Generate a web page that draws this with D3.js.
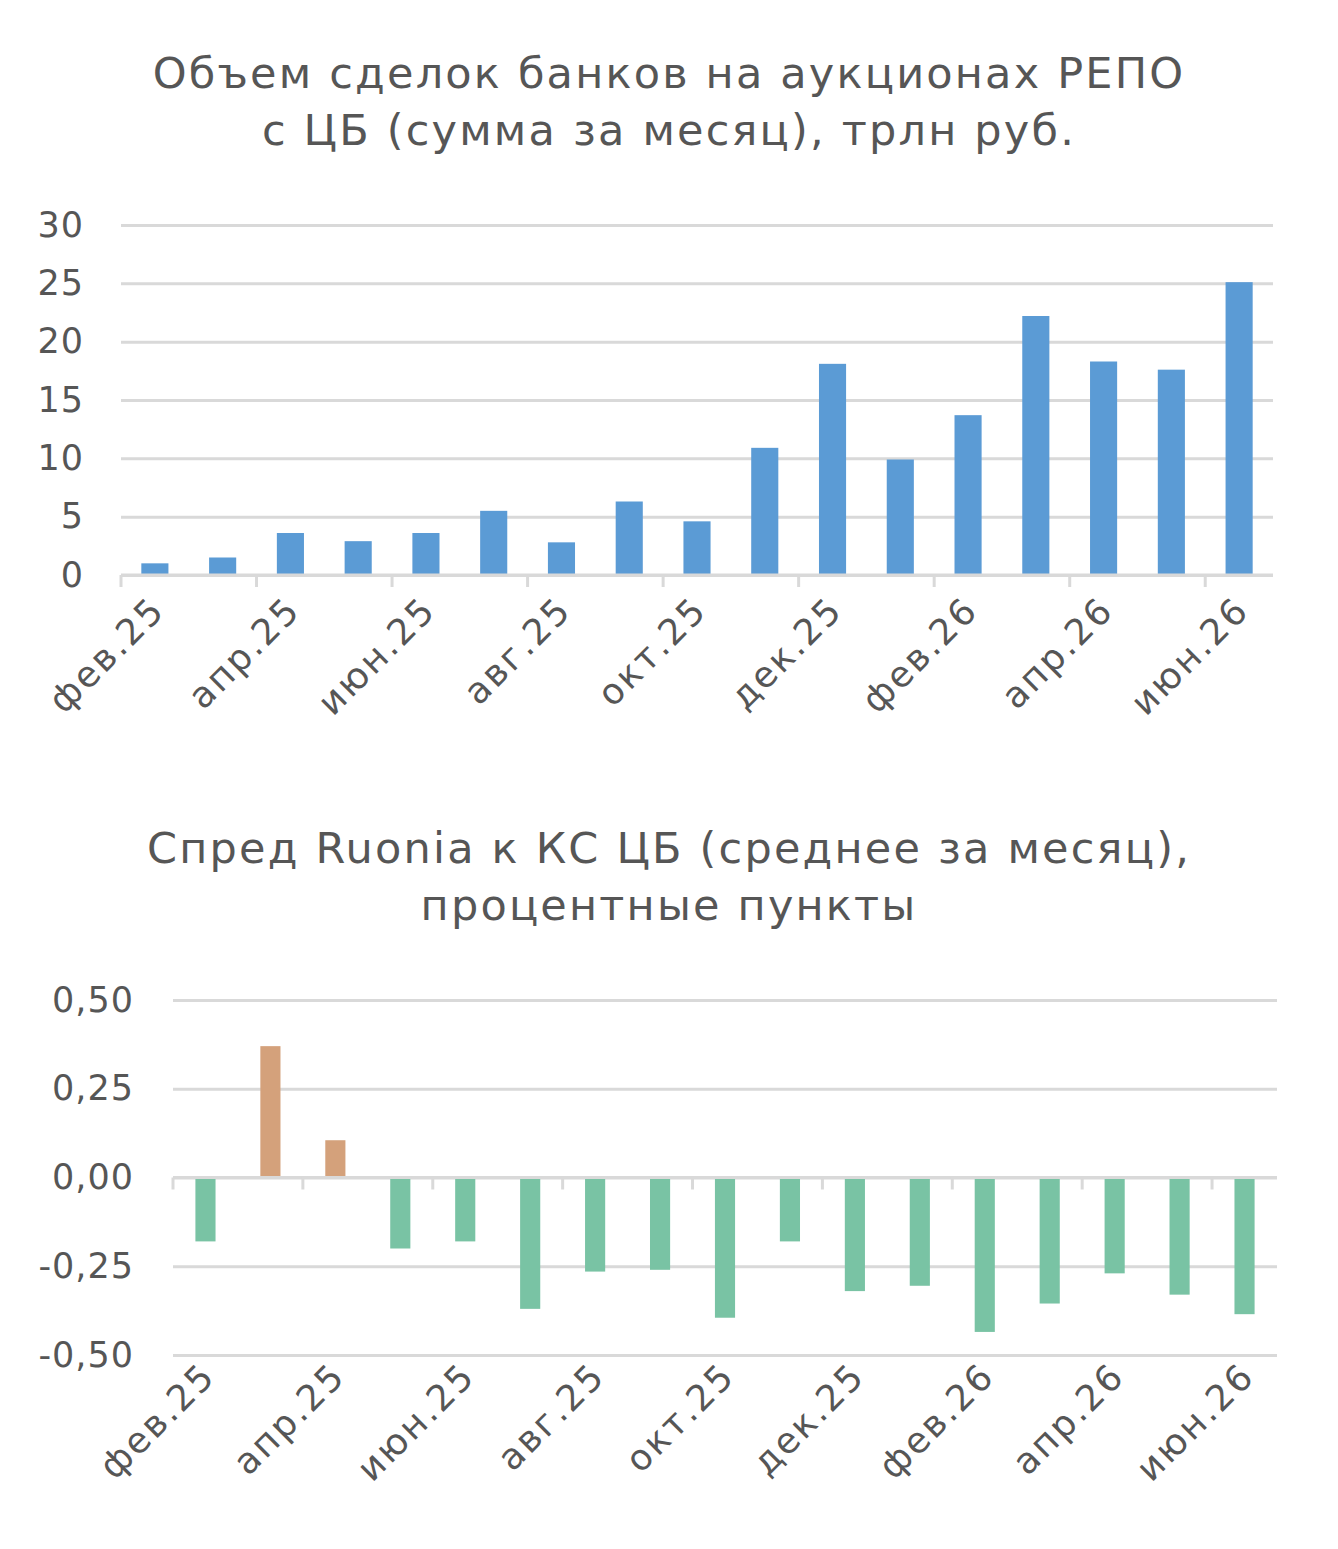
<!DOCTYPE html>
<meta charset="utf-8">
<style>
body { margin: 0; background: #fff; }
text { font-family: "DejaVu Sans", sans-serif; fill: #565656; }
.title { font-size: 43px; letter-spacing: 2.2px; }
.tick text { font-size: 35px; letter-spacing: 1px; }
.month { font-size: 36px; letter-spacing: 2.4px; }
</style>
<svg width="1338" height="1549"></svg>
<script src="https://cdn.jsdelivr.net/npm/d3@7"></script>
<script>

// months, shared by both charts
const months = ["фев.25","мар.25","апр.25","май.25","июн.25","июл.25","авг.25","сен.25",
  "окт.25","ноя.25","дек.25","янв.26","фев.26","мар.26","апр.26","май.26","июн.26"];

// repo volume, trln rub
const repoValues = [1.0, 1.5, 3.6, 2.9, 3.6, 5.5, 2.8, 6.3, 4.6, 10.9, 18.1, 9.9, 13.7, 22.2, 18.3, 17.6, 25.1];
const repoTicks = [0, 5, 10, 15, 20, 25, 30];

// ruonia spread, p.p.
const spreadValues = [-0.18, 0.37, 0.105, -0.2, -0.18, -0.37, -0.265, -0.26, -0.395, -0.18,
  -0.32, -0.305, -0.435, -0.355, -0.27, -0.33, -0.385];
const spreadTicks = [-0.5, -0.25, 0, 0.25, 0.5];

const svg = d3.select("svg");
const gridColor = "#d9d9d9";

function title(lines, y0) {
  svg.append("text")
    .attr("class", "title")
    .attr("text-anchor", "middle")
    .selectAll("tspan")
    .data(lines)
    .join("tspan")
    .attr("x", 669)
    .attr("y", (d, i) => y0 + i * 57)
    .text(d => d);
}

function barChart(opts) {
  const x = d3.scaleBand()
      .domain(months)
      .range([opts.left, opts.right])
      .paddingInner(opts.pad)
      .paddingOuter(opts.pad / 2);
  const y = d3.scaleLinear()
      .domain(opts.domain)
      .range([opts.bottom, opts.top]);

  // gridlines + tick labels
  const yAxis = svg.append("g")
      .attr("transform", `translate(${opts.left},0)`)
      .call(d3.axisLeft(y).tickValues(opts.ticks).tickSize(-(opts.right - opts.left))
        .tickPadding(opts.left - opts.labelRight).tickFormat(opts.fmt));
  yAxis.select(".domain").remove();
  yAxis.selectAll(".tick line").attr("stroke", gridColor).attr("stroke-width", 3);

  // bars
  svg.append("g")
    .selectAll("rect")
    .data(opts.values)
    .join("rect")
    .attr("x", (d, i) => x(months[i]))
    .attr("width", x.bandwidth())
    .attr("y", d => y(Math.max(0, d)))
    .attr("height", d => Math.abs(y(d) - y(0)))
    .attr("fill", d => opts.color(d));

  // category axis at zero
  const step = x.step();
  const xAxis = svg.append("g")
      .attr("transform", `translate(0,${y(0)})`);
  xAxis.append("line")
    .attr("x1", opts.left).attr("x2", opts.right)
    .attr("stroke", gridColor).attr("stroke-width", 3);
  xAxis.selectAll(".tk")
    .data(months.filter((d, i) => i % 2 === 0))
    .join("line")
    .attr("class", "tk")
    .attr("x1", d => x(d) - x.paddingInner() * step / 2)
    .attr("x2", d => x(d) - x.paddingInner() * step / 2)
    .attr("y1", 0).attr("y2", 12)
    .attr("stroke", gridColor).attr("stroke-width", 3);

  // rotated month labels
  svg.append("g")
    .selectAll("text")
    .data(months.filter((d, i) => i % 2 === 0))
    .join("text")
    .attr("class", "month")
    .attr("text-anchor", "end")
    .attr("transform", d => `translate(${x(d) + x.bandwidth() / 2 + opts.labelDx},${opts.labelY}) rotate(-45)`)
    .text(d => d);
}

title(["Объем сделок банков на аукционах РЕПО", "с ЦБ (сумма за месяц), трлн руб."], 88);
barChart({
  values: repoValues, ticks: repoTicks, domain: [0, 30],
  left: 121, right: 1273, top: 225, bottom: 575, pad: 0.6, labelRight: 84, labelY: 612, labelDx: 12,
  fmt: d3.format("d"), color: () => "#5b9bd5"
});

title(["Спред Ruonia к КС ЦБ (среднее за месяц),", "процентные пункты"], 863);
barChart({
  values: spreadValues, ticks: spreadTicks, domain: [-0.5, 0.5],
  left: 173, right: 1277, top: 1000, bottom: 1355, pad: 0.69, labelRight: 134, labelY: 1378, labelDx: 12,
  fmt: d => d3.format(".2f")(d).replace(".", ",").replace("−", "-"),
  color: d => d >= 0 ? "#d4a17b" : "#79c3a4"
});

</script>
